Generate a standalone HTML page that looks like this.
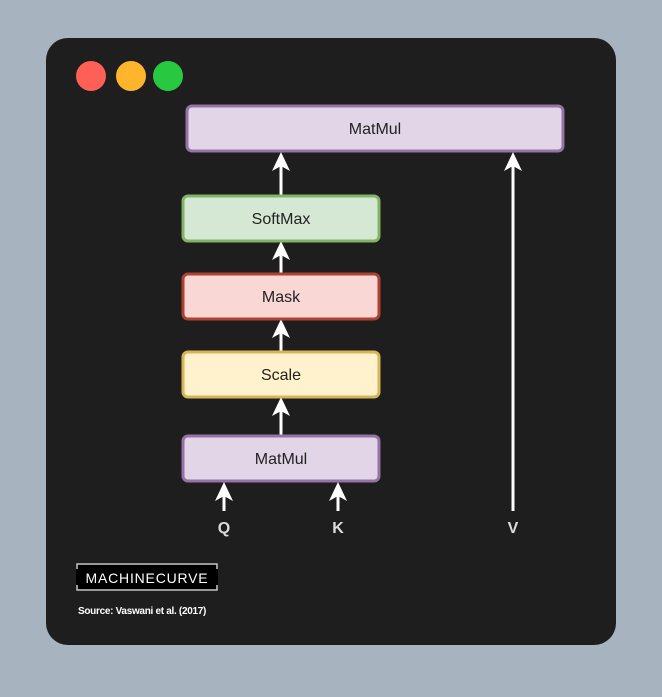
<!DOCTYPE html>
<html><head><style>body{margin:0;background:#a7b3bf}</style></head><body>
<svg width="662" height="692" xmlns="http://www.w3.org/2000/svg" font-family="Liberation Sans, sans-serif">
<rect width="662" height="692" fill="#a7b3bf"/>
<rect x="46" y="38" width="570" height="607" rx="22" fill="#1e1e1e"/>
<circle cx="91" cy="76" r="15" fill="#fe5f57"/>
<circle cx="131" cy="76" r="15" fill="#feb42b"/>
<circle cx="168" cy="76" r="15" fill="#28c840"/>
<g stroke="#fff" stroke-width="3" fill="none">
<line x1="281" y1="196" x2="281" y2="160"/>
<line x1="281" y1="274" x2="281" y2="248"/>
<line x1="281" y1="352" x2="281" y2="326"/>
<line x1="281" y1="436" x2="281" y2="404"/>
<line x1="513" y1="511" x2="513" y2="160"/>
<line x1="224" y1="511" x2="224" y2="490"/>
<line x1="338" y1="511" x2="338" y2="490"/>
</g>
<g fill="#fff">
<path d="M281 152 l-9 19 l9 -5 l9 5z"/>
<path d="M281 241 l-9 19 l9 -5 l9 5z"/>
<path d="M281 319 l-9 19 l9 -5 l9 5z"/>
<path d="M281 397 l-9 19 l9 -5 l9 5z"/>
<path d="M513 152 l-9 19 l9 -5 l9 5z"/>
<path d="M224 482 l-9 19 l9 -5 l9 5z"/>
<path d="M338 482 l-9 19 l9 -5 l9 5z"/>
</g>
<g stroke-width="3">
<rect x="187" y="106" width="376" height="45" rx="5" fill="#e1d5e7" stroke="#9673a6"/>
<rect x="183" y="196" width="196" height="45" rx="5" fill="#d5e8d4" stroke="#82b366"/>
<rect x="183" y="274" width="196" height="45" rx="5" fill="#f8d7d4" stroke="#ae4132"/>
<rect x="183" y="352" width="196" height="45" rx="5" fill="#fff2cc" stroke="#d6b656"/>
<rect x="183" y="436" width="196" height="45" rx="5" fill="#e1d5e7" stroke="#9673a6"/>
</g>
<g font-size="16" text-anchor="middle" fill="#222">
<text x="375" y="134">MatMul</text>
<text x="281" y="224">SoftMax</text>
<text x="281" y="302">Mask</text>
<text x="281" y="380">Scale</text>
<text x="281" y="464">MatMul</text>
</g>
<g font-size="16" font-weight="bold" text-anchor="middle" fill="#ddd">
<text x="224" y="533">Q</text><text x="338" y="533">K</text><text x="513" y="533">V</text>
</g>
<rect x="76" y="563" width="142" height="28" fill="#000"/>
<path d="M77 569v-5h140v5M77 585v5h140v-5" stroke="#ccc" stroke-width="1.5" fill="none"/>
<text x="147" y="583" font-size="14" text-anchor="middle" fill="#fff" letter-spacing="0.8">MACHINECURVE</text>
<text x="78" y="614" font-size="10" font-weight="bold" fill="#fff" letter-spacing="-0.3">Source: Vaswani et al. (2017)</text>
</svg>
</body></html>
